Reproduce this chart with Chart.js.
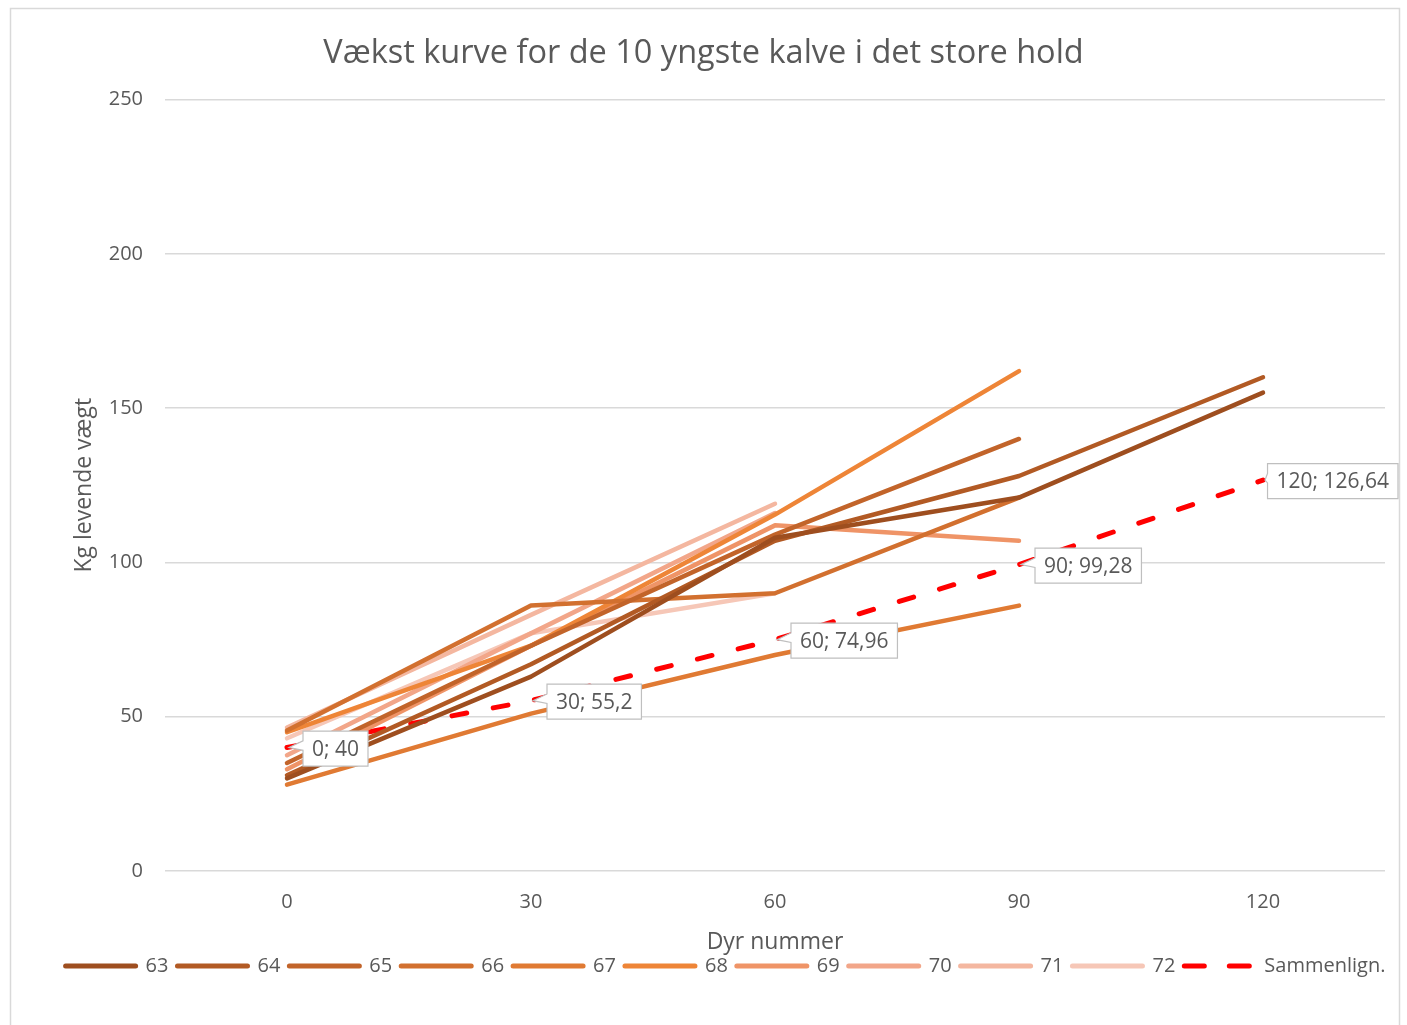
<!DOCTYPE html>
<html>
<head>
<meta charset="utf-8">
<script src="https://cdn.jsdelivr.net/npm/chart.js@4.4.1/dist/chart.umd.min.js"></script>
<style>
  body { margin: 0; background: #ffffff; }
  #wrap { position: relative; width: 1407px; height: 1025px; }
</style>
</head>
<body>
<div id="wrap"><canvas id="growthChart"></canvas></div>
<script>
// x positions (Excel category labels)
const xValues = [0, 30, 60, 90, 120];
const yTicks = [0, 50, 100, 150, 200, 250];

// weights (kg)
const dyr63 = [30, 63, 108, 121, 155];
const dyr64 = [31, 67, 107, 128, 160];
const dyr65 = [35, 73, 109, 140, null];
const dyr66 = [45.5, 86, 90, 121, null];
const dyr67 = [28, 51, 70, 86, null];
const dyr68 = [45, 73, 115.5, 162, null];
const dyr69 = [33, 73, 112, 107, null];
const dyr70 = [37.5, 77, 116, null, null];
const dyr71 = [46.5, 83, 119, null, null];
const dyr72 = [43, 77, 90, null, null];
const sammenlign = [40, 55.2, 74.96, 99.28, 126.64];

const seriesNames = ["63", "64", "65", "66", "67", "68", "69", "70", "71", "72"];
const seriesValues = [dyr63, dyr64, dyr65, dyr66, dyr67, dyr68, dyr69, dyr70, dyr71, dyr72];
const seriesColors = ["#9E4E1F", "#B25A24", "#C2642A", "#D2702F", "#E07A33", "#EE8537",
                      "#EF9467", "#F2A689", "#F4B7A0", "#F6C7B7"];

const textColor = "#595959";
const fontFamily = "'Open Sans', 'Noto Sans', sans-serif";

function toPoints(values) {
  return xValues.map((x, i) => ({ x: x, y: values[i] })).filter((p) => p.y !== null);
}

const datasets = seriesNames.map((name, i) => ({
  label: name,
  data: toPoints(seriesValues[i]),
  borderColor: seriesColors[i],
  backgroundColor: seriesColors[i],
  borderWidth: 4.5,
  borderCapStyle: "round",
  borderJoinStyle: "round",
  pointRadius: 0,
  tension: 0,
}));
datasets.push({
  label: "Sammenlign.",
  data: toPoints(sammenlign),
  borderColor: "#FF0000",
  backgroundColor: "#FF0000",
  borderWidth: 5,
  borderDash: [15, 27],
  borderCapStyle: "round",
  pointRadius: 0,
  tension: 0,
  isCompare: true,
});

// white background + thin outer frame like the Excel chart area
const frame = {
  id: "frame",
  beforeDraw(chart) {
    const ctx = chart.ctx;
    ctx.save();
    ctx.fillStyle = "#ffffff";
    ctx.fillRect(0, 0, chart.width, chart.height);
    ctx.strokeStyle = "#D9D9D9";
    ctx.lineWidth = 1.5;
    ctx.strokeRect(10.5, 8.5, 1389, 1040);
    ctx.restore();
  },
};

// Excel puts the legend a bit right of centre
const legendShift = {
  id: "legendShift",
  beforeDraw(chart) {
    if (!chart.legend._shifted) {
      chart.legend.left += 22;
      chart.legend.right += 22;
      chart.legend._shifted = true;
    }
  },
};

// callout boxes for the comparison line
const callouts = {
  id: "callouts",
  afterDatasetsDraw(chart) {
    const idx = chart.data.datasets.findIndex((d) => d.isCompare);
    const meta = chart.getDatasetMeta(idx);
    const ctx = chart.ctx;
    ctx.save();
    ctx.font = "21px " + fontFamily;
    meta.data.forEach((pt, i) => {
      const raw = chart.data.datasets[idx].data[i];
      const text = raw.x + "; " + String(raw.y).replace(".", ",");
      const w = ctx.measureText(text).width + 18;
      const h = 35;
      let left = pt.x + 16;
      if (left + w > 1398) left = 1398 - w;
      const top = pt.y - h / 2 + 1;
      const wy1 = top + h * 0.28;
      const wy2 = top + h * 0.55;
      ctx.beginPath();
      ctx.moveTo(left, top);
      ctx.lineTo(left + w, top);
      ctx.lineTo(left + w, top + h);
      ctx.lineTo(left, top + h);
      ctx.lineTo(left, wy2);
      ctx.lineTo(pt.x + 2, pt.y);
      ctx.lineTo(left, wy1);
      ctx.closePath();
      ctx.fillStyle = "#ffffff";
      ctx.fill();
      ctx.strokeStyle = "#BFBFBF";
      ctx.lineWidth = 1.2;
      ctx.stroke();
      ctx.fillStyle = textColor;
      ctx.textBaseline = "middle";
      ctx.textAlign = "left";
      ctx.fillText(text, left + 9, top + h / 2 + 1);
    });
    ctx.restore();
  },
};

const ctx = document.getElementById("growthChart").getContext("2d");
new Chart(ctx, {
  type: "line",
  data: { datasets: datasets },
  plugins: [frame, legendShift, callouts],
  options: {
    responsive: true,
    maintainAspectRatio: false,
    animation: false,
    layout: { padding: { left: 22, right: 22, top: 0, bottom: 39 } },
    plugins: {
      title: {
        display: true,
        text: "Vækst kurve for de 10 yngste kalve i det store hold",
        color: textColor,
        font: { family: fontFamily, size: 32.5, weight: "normal" },
        padding: { top: 34, bottom: 26.5 },
      },
      legend: {
        position: "bottom",
        labels: {
          color: textColor,
          font: { family: fontFamily, size: 20 },
          usePointStyle: true,
          pointStyleWidth: 70,
          boxHeight: 20,
          padding: 9,
          generateLabels(chart) {
            return chart.data.datasets.map((d, i) => ({
              text: d.label,
              datasetIndex: i,
              strokeStyle: d.borderColor,
              fillStyle: d.borderColor,
              lineWidth: 5,
              lineCap: "round",
              lineDash: d.isCompare ? [20, 25] : [],
              pointStyle: "line",
              fontColor: textColor,
            }));
          },
        },
      },
      tooltip: { enabled: false },
    },
    scales: {
      x: {
        type: "linear",
        min: -15,
        max: 135,
        afterBuildTicks(scale) {
          scale.ticks = xValues.map((v) => ({ value: v }));
        },
        afterFit(scale) {
          scale.height = 76;
        },
        grid: { display: false, drawTicks: false },
        border: { display: false },
        ticks: {
          color: textColor,
          font: { family: fontFamily, size: 20 },
          padding: 19,
        },
        title: {
          display: true,
          text: "Dyr nummer",
          color: textColor,
          font: { family: fontFamily, size: 23 },
          padding: { top: 0, bottom: -9 },
        },
      },
      y: {
        min: 0,
        max: 250,
        afterBuildTicks(scale) {
          scale.ticks = yTicks.map((v) => ({ value: v }));
        },
        afterFit(scale) {
          scale.width = 143;
        },
        grid: { color: "#D9D9D9", lineWidth: 1.5, drawTicks: false },
        border: { display: false },
        ticks: {
          color: textColor,
          font: { family: fontFamily, size: 20 },
          padding: 22,
        },
        title: {
          display: true,
          text: "Kg levende vægt",
          color: textColor,
          font: { family: fontFamily, size: 23 },
          padding: { top: 49, bottom: 0 },
        },
      },
    },
  },
});
</script>
</body>
</html>
